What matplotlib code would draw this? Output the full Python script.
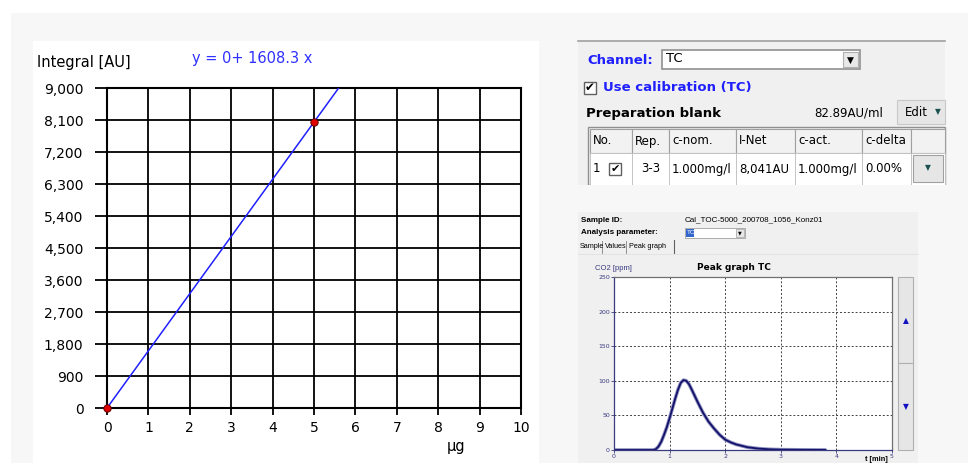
import matplotlib

matplotlib.use("Agg")
import matplotlib.pyplot as plt
from matplotlib.patches import Rectangle
from matplotlib.lines import Line2D
from matplotlib.ticker import FuncFormatter

plt.rcParams["font.family"] = ["DejaVu Sans"]

W, H = 968, 463

# calibration data
cal_x = [0, 5]
cal_y = [0, 8041]
slope = 1608.3
fit_x = [0, 9000 / slope]
x_ticks = list(range(0, 11))
y_ticks = [0, 900, 1800, 2700, 3600, 4500, 5400, 6300, 7200, 8100, 9000]

# table content
col_names = ["No.", "Rep.", "c-nom.", "I-Net", "c-act.", "c-delta", ""]
row_vals = ["1", "3-3", "1.000mg/l", "8,041AU", "1.000mg/l", "0.00%", ""]
col_edges = [590, 632, 669, 736, 795, 862, 911, 945]

# peak graph data
peak_t = [0, 0.7, 0.75, 0.8, 0.85, 0.9, 0.95, 1.0, 1.05, 1.1, 1.15, 1.2, 1.25, 1.3,
          1.35, 1.4, 1.5, 1.6, 1.7, 1.8, 1.9, 2.0, 2.1, 2.2, 2.4, 2.6, 2.8, 3.0, 3.4, 3.8]
peak_v = [0, 0, 1, 5, 12, 22, 33, 46, 60, 74, 87, 97, 101, 100,
          95, 87, 70, 54, 41, 31, 22, 15, 11, 8, 4, 2, 1, 0.5, 0.2, 0.1]

SMALL = ["Liberation Sans", "DejaVu Sans"]


def fx(x):
    return x / W


def fy(y):
    return 1 - y / H


fig = plt.figure(figsize=(W / 100, H / 100), dpi=100)
fig.patch.set_facecolor("white")


def box(x0, y0, x1, y1, fc, ec="none", lw=0.8, z=0):
    fig.patches.append(Rectangle((fx(x0), fy(y1)), fx(x1 - x0), (y1 - y0) / H,
                                 transform=fig.transFigure, facecolor=fc,
                                 edgecolor=ec, linewidth=lw, zorder=z))


def line(x0, y0, x1, y1, color, lw=1.0, ls="-", z=1):
    fig.lines.append(Line2D([fx(x0), fx(x1)], [fy(y0), fy(y1)], transform=fig.transFigure,
                            color=color, lw=lw, ls=ls, zorder=z))


def txt(x, y, s, size=10, **kw):
    kw.setdefault("va", "center")
    kw.setdefault("zorder", 8)
    fig.text(fx(x), fy(y), s, fontsize=size, **kw)


# backgrounds
box(11, 13, 968, 463, "#f7f7f7", z=-5)
box(33, 41, 539, 463, "white", z=-4)

# ---- calibration chart ----
ax = fig.add_axes([fx(107), fy(408), fx(521) - fx(107), (408 - 88) / H])
ax.set_zorder(10)
ax.plot(fit_x, [slope * v for v in fit_x], color="#2020ff", lw=1.1, zorder=3)
ax.scatter(cal_x, cal_y, s=28, color="#e00000", edgecolors="#600000", linewidths=0.7,
           zorder=4, clip_on=False)
ax.set_xlim(0, 10)
ax.set_ylim(0, 9000)
ax.set_xticks(x_ticks)
ax.set_yticks(y_ticks)
ax.yaxis.set_major_formatter(FuncFormatter(lambda v, p: f"{int(v):,}"))
ax.grid(True, color="black", lw=1.3)
for s in ax.spines.values():
    s.set_linewidth(1.5)
ax.tick_params(axis="y", length=9, width=1.3, labelsize=10, pad=8, colors="black")
ax.tick_params(axis="x", length=5, width=1.3, labelsize=10, pad=4)
ax.set_axisbelow(True)
txt(37, 63, "Integral [AU]", size=10.5)
txt(192, 58, "y = 0+ 1608.3 x", size=10.5, color="#3030ff")
txt(447, 446, "μg", size=10.5)

# ---- calibration settings panel ----
box(578, 41, 945, 185, "#f0f0f0")
line(578, 41, 945, 41, "#a0a0a0", lw=1.2)
txt(587, 60, "Channel:", size=9.5, weight="bold", color="#2020ff")
box(662, 50, 860, 69, "white", ec="#909090", lw=1.2, z=1)
txt(666, 58, "TC", size=9.5)
box(843, 52, 858, 67, "#e8e8e8", ec="#b0b0b0", lw=0.8, z=2)
txt(850.5, 60, "▼", size=6.5, ha="center")
box(584, 82, 596, 94, "white", ec="#606060", lw=1.0, z=1)
txt(590, 88, "✔", size=8.5, ha="center")
txt(603, 88, "Use calibration (TC)", size=9.5, weight="bold", color="#2020ff")
txt(586, 113, "Preparation blank", size=9.5, weight="bold")
txt(814, 113, "82.89AU/ml", size=8.5)
box(897, 100, 945, 124, "#e6e6e6", ec="#c8c8c8", lw=0.8, z=1)
txt(905, 112, "Edit", size=8.5)
txt(935, 112, "▼", size=5.5, color="#1a5050")

box(588, 127, 945, 185, "#f0f0f0", ec="#909090", lw=1.0, z=1)
for i, name in enumerate(col_names):
    x0, x1 = col_edges[i], col_edges[i + 1]
    box(x0, 129, x1, 153, "#f2f2f2", ec="#a0a0a0", lw=0.8, z=2)
    txt(x0 + 3, 141, name, size=8.5)
    box(x0, 153, x1, 185, "white", ec="#c0c0c0", lw=0.6, z=2)
    if i == 0:
        txt(x0 + 3, 169, row_vals[i], size=8.5)
        box(609, 163, 621, 175, "white", ec="#606060", lw=1.0, z=3)
        txt(615, 169, "✔", size=8, ha="center")
    elif i == 1:
        txt((x0 + x1) / 2, 169, row_vals[i], size=8.5, ha="center")
    elif i == 6:
        box(x0 + 2, 155, x1 - 2, 182, "#e6e6e6", ec="#a0a0a0", lw=0.8, z=3)
        txt((x0 + x1) / 2, 168, "▼", size=5.5, ha="center", color="#1a5050")
    else:
        txt(x0 + 3, 169, row_vals[i], size=8.5)
box(586, 185, 947, 190, "#f7f7f7", z=5)

# ---- peak graph screenshot ----
box(578, 212, 918, 463, "#f0f0f0")
txt(581, 220, "Sample ID:", size=5.8, weight="bold", family=SMALL)
txt(685, 220, "Cal_TOC-5000_200708_1056_Konz01", size=5.8, family=SMALL)
txt(581, 233, "Analysis parameter:", size=5.8, weight="bold", family=SMALL)
box(685, 228, 745, 238, "white", ec="#a0a0a0", lw=0.6, z=1)
box(686, 229, 694, 237, "#3366cc", z=2)
txt(686.5, 233, "TC", size=4.5, color="white", family=SMALL)
box(736, 229, 744, 237, "#e6e6e6", ec="#a0a0a0", lw=0.5, z=2)
txt(740, 233, "▼", size=3.5, ha="center")
txt(580, 247, "Sample", size=5.2, family=SMALL)
line(602, 241, 602, 253, "#808080", lw=0.6)
txt(604.5, 247, "Values", size=5.2, family=SMALL)
line(626, 241, 626, 253, "#808080", lw=0.6)
txt(629, 246, "Peak graph", size=5.2, family=SMALL)
line(674, 240, 674, 253, "#606060", lw=0.8)
line(578, 254, 918, 254, "#e0e0e0", lw=0.6)
txt(595, 268, "CO2 [ppm]", size=5.5, color="#3a3a80", family=SMALL)
txt(697, 268, "Peak graph TC", size=6.5, weight="bold")

pax = fig.add_axes([fx(614), fy(450), fx(892) - fx(614), (450 - 277) / H])
pax.set_zorder(10)
pax.plot(peak_t, peak_v, color="#9090c0", lw=2.6, solid_capstyle="round")
pax.plot(peak_t, peak_v, color="#12126a", lw=1.3)
pax.set_xlim(0, 5)
pax.set_ylim(0, 250)
pax.set_xticks(range(0, 6))
pax.set_yticks(range(0, 251, 50))
pax.grid(True, color="#404040", lw=0.7, ls=(0, (2, 2)))
pax.tick_params(labelsize=4.5, colors="#3a3a80", length=2, width=0.6, pad=1)
for name, sp in pax.spines.items():
    sp.set_linewidth(0.9)
    sp.set_color("#3a3a80" if name in ("left", "bottom") else "#707070")
txt(888, 459.5, "t [min]", size=5.3, weight="bold", family=SMALL, ha="right")

# scroll buttons
box(898, 277, 913, 363, "#e6e6e6", ec="#b0b0b0", lw=0.8, z=1)
box(898, 363, 913, 450, "#e6e6e6", ec="#b0b0b0", lw=0.8, z=1)
txt(905.5, 321, "▲", size=5.5, ha="center", color="#1010c0")
txt(905.5, 407, "▼", size=5.5, ha="center", color="#1010c0")

fig.savefig("out.png", dpi=100)
